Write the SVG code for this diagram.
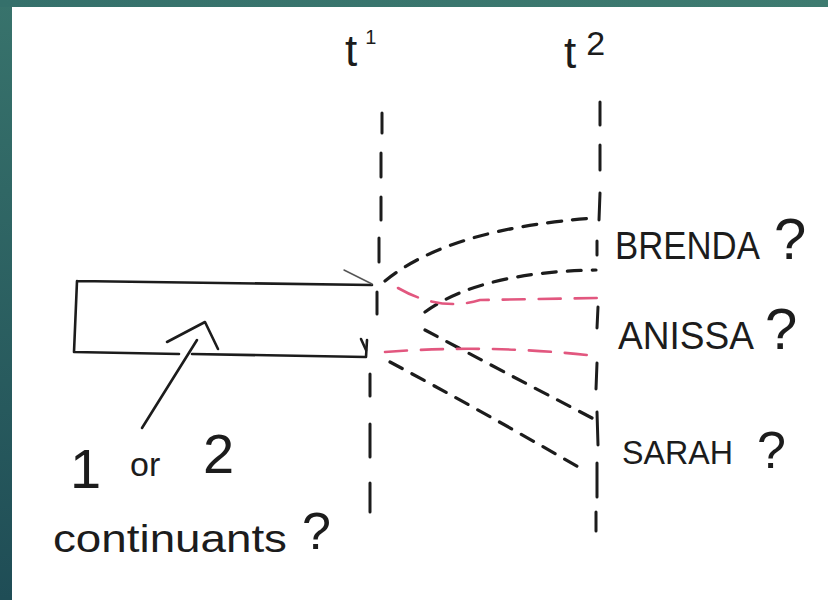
<svg xmlns="http://www.w3.org/2000/svg" width="828" height="600" viewBox="0 0 828 600">
  <defs>
    <linearGradient id="leftBand" x1="0" y1="0" x2="0" y2="1">
      <stop offset="0" stop-color="#38736c"/>
      <stop offset="1" stop-color="#1f4d56"/>
    </linearGradient>
    <linearGradient id="topBand" x1="0" y1="0" x2="1" y2="0">
      <stop offset="0" stop-color="#35706b"/>
      <stop offset="1" stop-color="#3e7b70"/>
    </linearGradient>
  </defs>
  <style>
    .ink { fill: none; stroke: #1c1c1c; stroke-width: 2.6; stroke-linecap: round; stroke-linejoin: round; }
    .thin { fill: none; stroke: #555; stroke-width: 1.4; stroke-linecap: round; }
    .dash { fill: none; stroke: #1c1c1c; stroke-width: 3.2; stroke-linecap: round; stroke-dasharray: 14 11; }
    .pink { fill: none; stroke: #e2577f; stroke-width: 2.6; stroke-linecap: round; stroke-dasharray: 22 14; }
    .vline { fill: none; stroke: #1c1c1c; stroke-width: 3; stroke-linecap: round; }
    .hand { font-family: "Liberation Sans", "DejaVu Sans", sans-serif; fill: #1c1c1c; }
  </style>

  <rect x="0" y="0" width="828" height="600" fill="#ffffff"/>
  <rect x="0" y="0" width="12" height="600" fill="url(#leftBand)"/>
  <rect x="0" y="0" width="828" height="7" fill="url(#topBand)"/>

  <g id="box">
    <path class="ink" d="M77,281 L372,285 M77,281 L74,352 L179,354 M192,354 L366,357 L367,340"/>
    <path class="thin" d="M344,270 L372,284"/>
    <path class="ink" d="M361,339 L366,350"/>
  </g>

  <g id="arrow-note">
    <path class="ink" d="M142,428 L197,340"/>
    <path class="ink" d="M167,342 L205,322 L218,349"/>
  </g>

  <g id="timeline-t1">
    <path class="vline" d="M382,113 L382,133 M381,153 L381,177 M381,197 L381,220 M379,238 L379,262 M377,292 L377,314 M370,374 L370,396 M370,424 L370,457 M370,483 L370,512"/>
  </g>

  <g id="timeline-t2">
    <path class="vline" d="M600,102 L600,125 M600,145 L600,170 M600,193 L599,220 M597,241 L597,255 M598,307 L597,328 M597,363 L596,389 M597,412 L598,445 M597,463 L597,497 M596,512 L596,531"/>
  </g>

  <g id="connectors">
    <path class="dash" d="M385,281 Q450,228 596,218"/>
    <path class="dash" d="M425,312 Q480,272 596,270"/>
    <path class="dash" d="M425,330 Q500,370 592,418"/>
    <path class="dash" d="M390,362 Q480,410 580,468"/>
    <path class="pink" d="M398,288 Q440,312 480,300 L600,298"/>
    <path class="pink" d="M385,352 Q490,344 596,356"/>
  </g>

  <g id="label-t1">
    <text class="hand" x="345" y="66" font-size="44">t<tspan font-size="20" dy="-22" dx="8">1</tspan></text>
  </g>
  <g id="label-t2">
    <text class="hand" x="564" y="68" font-size="44">t<tspan font-size="34" dy="-13" dx="10">2</tspan></text>
  </g>

  <g id="label-brenda">
    <text class="hand" y="259" font-size="38"><tspan x="615" textLength="143" lengthAdjust="spacingAndGlyphs">BRENDA</tspan> <tspan x="774" y="259" font-size="58">?</tspan></text>
  </g>
  <g id="label-anissa">
    <text class="hand" y="349" font-size="38"><tspan x="618" textLength="134" lengthAdjust="spacingAndGlyphs">ANISSA</tspan> <tspan x="765" y="349" font-size="58">?</tspan></text>
  </g>
  <g id="label-sarah">
    <text class="hand" y="464" font-size="34"><tspan x="622" textLength="111" lengthAdjust="spacingAndGlyphs">SARAH</tspan> <tspan x="757" y="468" font-size="52">?</tspan></text>
  </g>

  <g id="label-continuants">
    <text class="hand" x="70" y="488" font-size="56">1</text>
    <text class="hand" x="130" y="476" font-size="34">or</text>
    <text class="hand" x="203" y="473" font-size="56">2</text>
    <text class="hand" y="552" font-size="38"><tspan x="53" textLength="234" lengthAdjust="spacingAndGlyphs">continuants</tspan><tspan x="302" y="549" font-size="52">?</tspan></text>
  </g>
</svg>
